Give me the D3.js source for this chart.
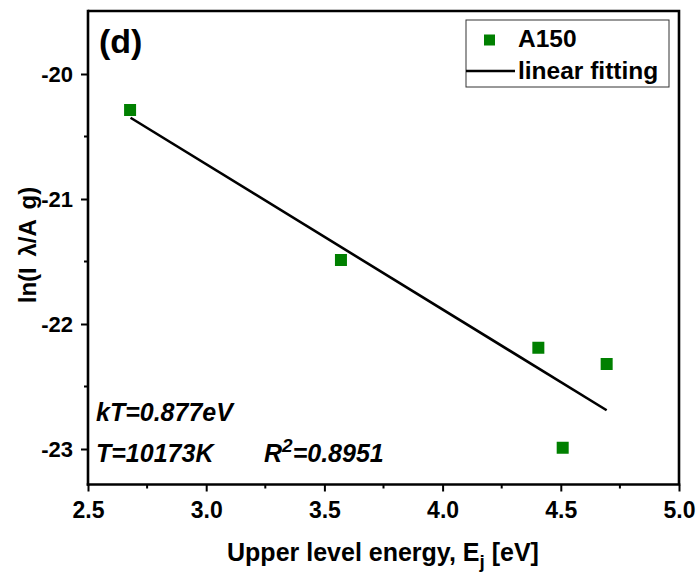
<!DOCTYPE html>
<html>
<head>
<meta charset="utf-8">
<script src="https://cdn.jsdelivr.net/npm/d3@7/dist/d3.min.js"></script>
<style>
  html, body { margin: 0; padding: 0; background: #fff; }
  svg { display: block; font-family: Arial, "Liberation Sans", sans-serif; }
</style>
</head>
<body>
<svg id="chart" width="700" height="578"></svg>
<script>
// Boltzmann plot data: upper level energy (eV) vs ln(I·λ/(A·g))
const energy = [2.678, 3.570, 4.405, 4.694, 4.508];
const lnIntensity = [-20.288, -21.488, -22.19, -22.32, -22.99];

// Linear fit endpoints
const fitEnergy = [2.68, 4.694];
const fitLn = [-20.35, -22.69];

const xTicks = [2.5, 3.0, 3.5, 4.0, 4.5, 5.0];
const yTicks = [-20, -21, -22, -23];
const xMinor = [2.75, 3.25, 3.75, 4.25, 4.75];
const yMinor = [-20.5, -21.5, -22.5];

const FONT = "Arial, 'Liberation Sans', sans-serif";
const svg = d3.select("#chart");
const plotL = 88, plotR = 679, plotT = 11, plotB = 484.5;

const x = d3.scaleLinear().domain([2.5, 5.0]).range([plotL, plotR]);
const y = d3.scaleLinear().domain([-23.284, -19.496]).range([plotB, plotT]);

const axisW = 2.6;

// Frame (top & right)
svg.append("path")
  .attr("d", `M${plotL},${plotT}H${plotR}V${plotB}`)
  .attr("fill", "none").attr("stroke", "#000").attr("stroke-width", axisW);

// Bottom axis
const xAxis = svg.append("g").attr("transform", `translate(0,${plotB})`)
  .call(d3.axisBottom(x).tickValues(xTicks).tickFormat(d => d.toFixed(1)).tickSize(7).tickPadding(10));
xAxis.attr("font-family", FONT).attr("font-size", 23).attr("font-weight", "bold");
xAxis.append("g").selectAll("line").data(xMinor).join("line")
  .attr("x1", d => x(d)).attr("x2", d => x(d)).attr("y1", 0).attr("y2", 4)
  .attr("stroke", "#000").attr("stroke-width", 2);

// Left axis
const yAxis = svg.append("g").attr("transform", `translate(${plotL},0)`)
  .call(d3.axisLeft(y).tickValues(yTicks).tickFormat(d => String(d)).tickSize(7).tickPadding(8));
yAxis.attr("font-family", FONT).attr("font-size", 22).attr("font-weight", "bold");
yAxis.append("g").selectAll("line").data(yMinor).join("line")
  .attr("y1", d => y(d)).attr("y2", d => y(d)).attr("x1", 0).attr("x2", -4)
  .attr("stroke", "#000").attr("stroke-width", 2);

xAxis.select(".domain").attr("stroke-width", axisW).attr("d", `M${plotL - 1.3},0H${plotR + 1.3}`);
yAxis.select(".domain").attr("stroke-width", axisW).attr("d", `M0,${plotB + 1.3}V${plotT - 1.3}`);
[xAxis, yAxis].forEach(g => {
  g.selectAll(".tick line").attr("stroke-width", 2);
  g.selectAll(".tick text").attr("fill", "#000");
});

// Fit line
svg.append("line")
  .attr("x1", x(fitEnergy[0])).attr("y1", y(fitLn[0]))
  .attr("x2", x(fitEnergy[1])).attr("y2", y(fitLn[1]))
  .attr("stroke", "#000").attr("stroke-width", 2.6);

// Data markers
const ms = 12;
svg.append("g").selectAll("rect").data(energy.map((e, i) => [e, lnIntensity[i]])).join("rect")
  .attr("x", d => x(d[0]) - ms / 2).attr("y", d => y(d[1]) - ms / 2)
  .attr("width", ms).attr("height", ms).attr("fill", "#008000");

// Panel label
svg.append("text").attr("x", 99).attr("y", 53).text("(d)")
  .attr("font-size", 34).attr("font-weight", "bold");

// Legend
const lg = svg.append("g").attr("font-size", 24.5).attr("font-weight", "bold");
lg.append("rect").attr("x", 466).attr("y", 20).attr("width", 203).attr("height", 67)
  .attr("fill", "#fff").attr("stroke", "#333").attr("stroke-width", 1);
lg.append("rect").attr("x", 484).attr("y", 34.5).attr("width", 11).attr("height", 11).attr("fill", "#008000");
lg.append("text").attr("x", 518).attr("y", 47).text("A150");
lg.append("line").attr("x1", 466).attr("x2", 515).attr("y1", 71).attr("y2", 71)
  .attr("stroke", "#000").attr("stroke-width", 2.6);
lg.append("text").attr("x", 518).attr("y", 79).text("linear fitting");

// Annotations
const ann = svg.append("g").attr("font-size", 25).attr("font-weight", "bold").attr("font-style", "italic");
ann.append("text").attr("x", 96).attr("y", 421).text("kT=0.877eV");
ann.append("text").attr("x", 96).attr("y", 462).text("T=10173K");
const r2 = ann.append("text").attr("x", 264).attr("y", 462);
r2.append("tspan").text("R");
r2.append("tspan").attr("dy", -10).attr("font-size", 19).text("2");
r2.append("tspan").attr("dy", 10).text("=0.8951");

// Axis titles
const xt = svg.append("text").attr("x", 383).attr("y", 561).attr("text-anchor", "middle")
  .attr("font-size", 25).attr("font-weight", "bold");
xt.append("tspan").text("Upper level energy, E");
xt.append("tspan").attr("dy", 7).attr("font-size", 19).text("j");
xt.append("tspan").attr("dy", -7).text(" [eV]");

svg.append("text").attr("transform", "translate(36,245) rotate(-90)").attr("text-anchor", "middle")
  .attr("font-size", 24).attr("font-weight", "bold").attr("word-spacing", 4)
  .text("ln(I λ/A g)");
</script>
</body>
</html>
